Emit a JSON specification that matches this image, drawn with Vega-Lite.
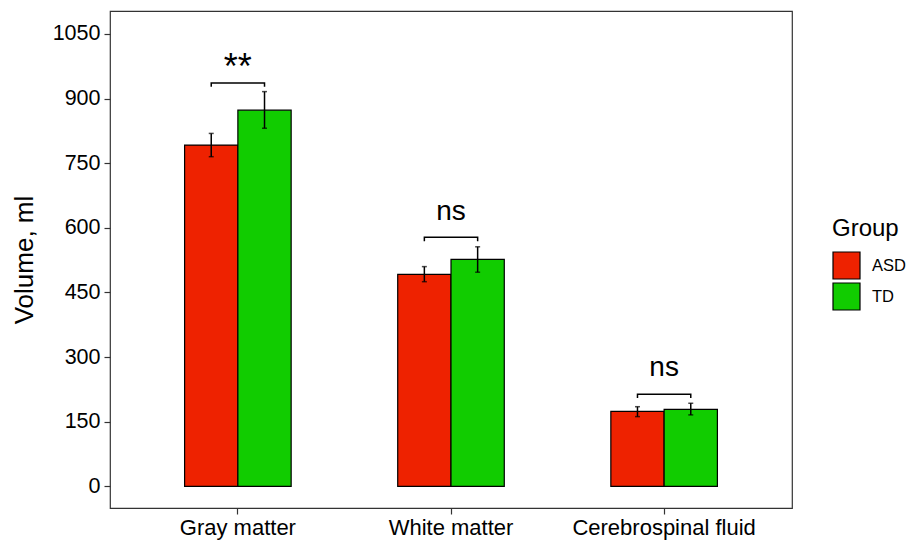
{
  "$schema": "https://vega.github.io/schema/vega-lite/v6.json",
  "width": 682,
  "height": 497,
  "autosize": {"type": "none"},
  "padding": {"left": 110, "top": 11, "right": 126, "bottom": 35},
  "background": "white",
  "config": {
    "font": "Liberation Sans",
    "view": {"stroke": "#333333", "strokeWidth": 1.2},
    "axis": {"grid": false, "domain": false, "tickColor": "#333333", "tickSize": 6, "tickWidth": 1.2, "labelColor": "#000000", "titleColor": "#000000", "titleFontWeight": "normal", "labelLimit": 0},
    "legend": {"titleFontWeight": "normal"}
  },
  "datasets": {
    "bars": [
      {"tissue": "Gray matter", "group": "ASD", "volume": 792, "lo": 765, "hi": 819},
      {"tissue": "Gray matter", "group": "TD", "volume": 873, "lo": 831, "hi": 916},
      {"tissue": "White matter", "group": "ASD", "volume": 492, "lo": 475, "hi": 510},
      {"tissue": "White matter", "group": "TD", "volume": 527, "lo": 497, "hi": 556},
      {"tissue": "Cerebrospinal fluid", "group": "ASD", "volume": 174, "lo": 162, "hi": 185},
      {"tissue": "Cerebrospinal fluid", "group": "TD", "volume": 179, "lo": 166, "hi": 193}
    ],
    "brackets": [
      {"tissue": "Gray matter", "group": "ASD", "y": 927, "ord": 1},
      {"tissue": "Gray matter", "group": "ASD", "y": 936, "ord": 2},
      {"tissue": "Gray matter", "group": "TD", "y": 936, "ord": 3},
      {"tissue": "Gray matter", "group": "TD", "y": 927, "ord": 4},
      {"tissue": "White matter", "group": "ASD", "y": 569, "ord": 1},
      {"tissue": "White matter", "group": "ASD", "y": 578, "ord": 2},
      {"tissue": "White matter", "group": "TD", "y": 578, "ord": 3},
      {"tissue": "White matter", "group": "TD", "y": 569, "ord": 4},
      {"tissue": "Cerebrospinal fluid", "group": "ASD", "y": 205, "ord": 1},
      {"tissue": "Cerebrospinal fluid", "group": "ASD", "y": 214, "ord": 2},
      {"tissue": "Cerebrospinal fluid", "group": "TD", "y": 214, "ord": 3},
      {"tissue": "Cerebrospinal fluid", "group": "TD", "y": 205, "ord": 4}
    ],
    "stars": [
      {"tissue": "Gray matter", "y": 946, "label": "**"}
    ],
    "ns": [
      {"tissue": "White matter", "y": 618, "label": "ns"},
      {"tissue": "Cerebrospinal fluid", "y": 257, "label": "ns"}
    ]
  },
  "encoding": {
    "x": {"field": "tissue", "type": "nominal", "sort": null,
      "scale": {"domain": ["Gray matter", "White matter", "Cerebrospinal fluid"], "paddingInner": 0.5, "paddingOuter": 0.35},
      "axis": {"title": null, "labelAngle": 0, "labelFontSize": 22, "labelPadding": 3, "labelLimit": 0}}
  },
  "layer": [
    {
      "data": {"name": "bars"},
      "mark": {"type": "bar", "stroke": "#000000", "strokeWidth": 1.2},
      "encoding": {
        "xOffset": {"field": "group", "type": "nominal", "scale": {"paddingInner": 0, "paddingOuter": 0}},
        "y": {"field": "volume", "type": "quantitative",
          "scale": {"domain": [-50, 1103], "nice": false, "zero": false},
          "axis": {"values": [0, 150, 300, 450, 600, 750, 900, 1050], "format": "d", "title": "Volume, ml", "titleFontSize": 26, "labelFontSize": 21.5, "labelPadding": 4, "titlePadding": 15}},
        "fill": {"field": "group", "type": "nominal",
          "scale": {"domain": ["ASD", "TD"], "range": ["#EE2200", "#11CC00"]},
          "legend": {"title": "Group", "orient": "none", "legendX": 722, "legendY": 206, "titleFontSize": 24, "labelFontSize": 16.5, "symbolType": "square", "symbolSize": 729, "symbolStrokeColor": "#000000", "symbolStrokeWidth": 1.2, "rowPadding": -2, "titlePadding": 10, "labelOffset": 11}}
      }
    },
    {
      "data": {"name": "bars"},
      "mark": {"type": "rule", "color": "#000000", "strokeWidth": 1.5},
      "encoding": {
        "xOffset": {"field": "group", "type": "nominal", "scale": {"paddingInner": 0, "paddingOuter": 0}},
        "y": {"field": "lo", "type": "quantitative"},
        "y2": {"field": "hi"}
      }
    },
    {
      "data": {"name": "bars"},
      "mark": {"type": "tick", "color": "#000000", "size": 5, "thickness": 1.5, "orient": "horizontal"},
      "encoding": {
        "xOffset": {"field": "group", "type": "nominal", "scale": {"paddingInner": 0, "paddingOuter": 0}},
        "y": {"field": "lo", "type": "quantitative"}
      }
    },
    {
      "data": {"name": "bars"},
      "mark": {"type": "tick", "color": "#000000", "size": 5, "thickness": 1.5, "orient": "horizontal"},
      "encoding": {
        "xOffset": {"field": "group", "type": "nominal", "scale": {"paddingInner": 0, "paddingOuter": 0}},
        "y": {"field": "hi", "type": "quantitative"}
      }
    },
    {
      "data": {"name": "brackets"},
      "mark": {"type": "line", "color": "#000000", "strokeWidth": 1.5},
      "encoding": {
        "xOffset": {"field": "group", "type": "nominal", "scale": {"paddingInner": 0, "paddingOuter": 0}},
        "y": {"field": "y", "type": "quantitative"},
        "detail": {"field": "tissue"},
        "order": {"field": "ord"}
      }
    },
    {
      "data": {"name": "stars"},
      "mark": {"type": "text", "fontSize": 36, "color": "#000000", "baseline": "alphabetic"},
      "encoding": {
        "y": {"field": "y", "type": "quantitative"},
        "text": {"field": "label"}
      }
    },
    {
      "data": {"name": "ns"},
      "mark": {"type": "text", "fontSize": 28, "color": "#000000", "baseline": "alphabetic"},
      "encoding": {
        "y": {"field": "y", "type": "quantitative"},
        "text": {"field": "label"}
      }
    }
  ]
}
